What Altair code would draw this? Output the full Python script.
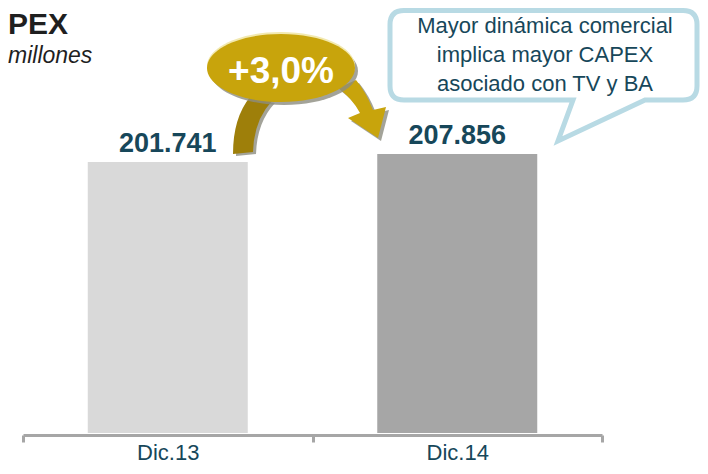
import altair as alt
import pandas as pd

# ---- data ----
categories = ["Dic.13", "Dic.14"]
values = [201741, 207856]
value_labels = ["201.741", "207.856"]
bar_colors = ["#d9d9d9", "#a6a6a6"]
growth_label = "+3,0%"
callout_lines = ["Mayor dinámica comercial", "implica mayor CAPEX", "asociado con TV y BA"]
title_text = "PEX"
subtitle_text = "millones"

df = pd.DataFrame({"cat": categories, "value": values, "label": value_labels, "color": bar_colors})

FONT = "Liberation Sans"
TEAL = "#17475a"
AXIS_GRAY = "#a6a6a6"

x = alt.X(
    "cat:N",
    sort=categories,
    scale=alt.Scale(paddingInner=0, paddingOuter=0),
    axis=alt.Axis(
        title=None, labelAngle=0, tickBand="extent", offset=2,
        domainColor=AXIS_GRAY, domainWidth=3, tickColor=AXIS_GRAY, tickWidth=3, tickSize=7,
        labelFont=FONT, labelFontSize=22, labelColor=TEAL, labelBaseline="alphabetic",
        labelPadding=17,
    ),
)
y = alt.Y("value:Q", scale=alt.Scale(domain=[0, 316500], nice=False, zero=True), axis=None)

bars = alt.Chart(df).mark_bar(size=160).encode(
    x=x, y=y, color=alt.Color("color:N", scale=None)
)
labels = alt.Chart(df).mark_text(
    font=FONT, fontSize=27, fontWeight="bold", color=TEAL, baseline="alphabetic", dy=-10
).encode(x=x, y=y, text="label:N")

one = alt.Data(values=[{"a": 1}])


def shape(path, fill, stroke=None, sw=0, opacity=1.0, dx=0, dy=0):
    kw = dict(shape=path, size=4, filled=True, fill=fill, opacity=opacity, strokeWidth=sw,
              xOffset=dx, yOffset=dy)
    if stroke:
        kw["stroke"] = stroke
    return alt.Chart(one).mark_point(**kw).encode(x=alt.value(0), y=alt.value(0))


def text(t, px, py, **kw):
    return alt.Chart(one).mark_text(font=FONT, baseline="alphabetic", **kw).encode(
        x=alt.value(px), y=alt.value(py), text=alt.value(t)
    )


ELLIPSE = "M184,60 A74,34 0 1 0 332,60 A74,34 0 1 0 184,60 Z"
LEFT_STEM = "M210,146 Q210,110 227,89 L249,93 Q231,112 230,144 Z"
RIGHT_ARROW = "M315,80 Q329,90 337,105 L325,110 L355,130 L363,99 L350,102 Q343,84 333,72 Z"
CALLOUT = ("M381,2.5 L660,2.5 Q674,2.5 674,16.5 L674,78 Q674,92 660,92 L622,92 "
           "L535,133 L550,92 L381,92 Q367,92 367,78 L367,16.5 Q367,2.5 381,2.5 Z")

shadow = "#8c8c80"
layers = [
    bars,
    labels,
    shape(LEFT_STEM, shadow, opacity=0.8, dx=3, dy=2),
    shape(LEFT_STEM, "#9e7f0a"),
    shape(RIGHT_ARROW, shadow, opacity=0.8, dx=3, dy=3),
    shape(RIGHT_ARROW, "#c8a40c"),
    shape(ELLIPSE, shadow, opacity=0.8, dx=3, dy=3),
    shape(ELLIPSE, "#f2e9b0", dx=0, dy=-2),
    shape(ELLIPSE, "#c8a40c"),
    text(growth_label, 258, 75, fontSize=37, fontWeight="bold", color="white", align="center"),
    shape(CALLOUT, "white", stroke="#b8dae4", sw=5),
    alt.Chart(one).mark_text(
        font=FONT, baseline="alphabetic", fontSize=22, color=TEAL, align="center", lineHeight=29
    ).encode(x=alt.value(522), y=alt.value(25), text=alt.value(callout_lines)),
    text(title_text, -15, 26, fontSize=30, fontWeight="bold", color="#1f1f1f", align="left"),
    text(subtitle_text, -15, 55, fontSize=23, fontStyle="italic", color="#1f1f1f", align="left"),
]

chart = alt.layer(*layers).properties(
    width=579, height=425,
    padding={"left": 15, "top": 0, "right": 98, "bottom": 33},
    autosize=alt.AutoSizeParams(type="none"),
).configure_view(stroke=None)

chart.save("out.html", embed_options={"renderer": "svg", "actions": False})
